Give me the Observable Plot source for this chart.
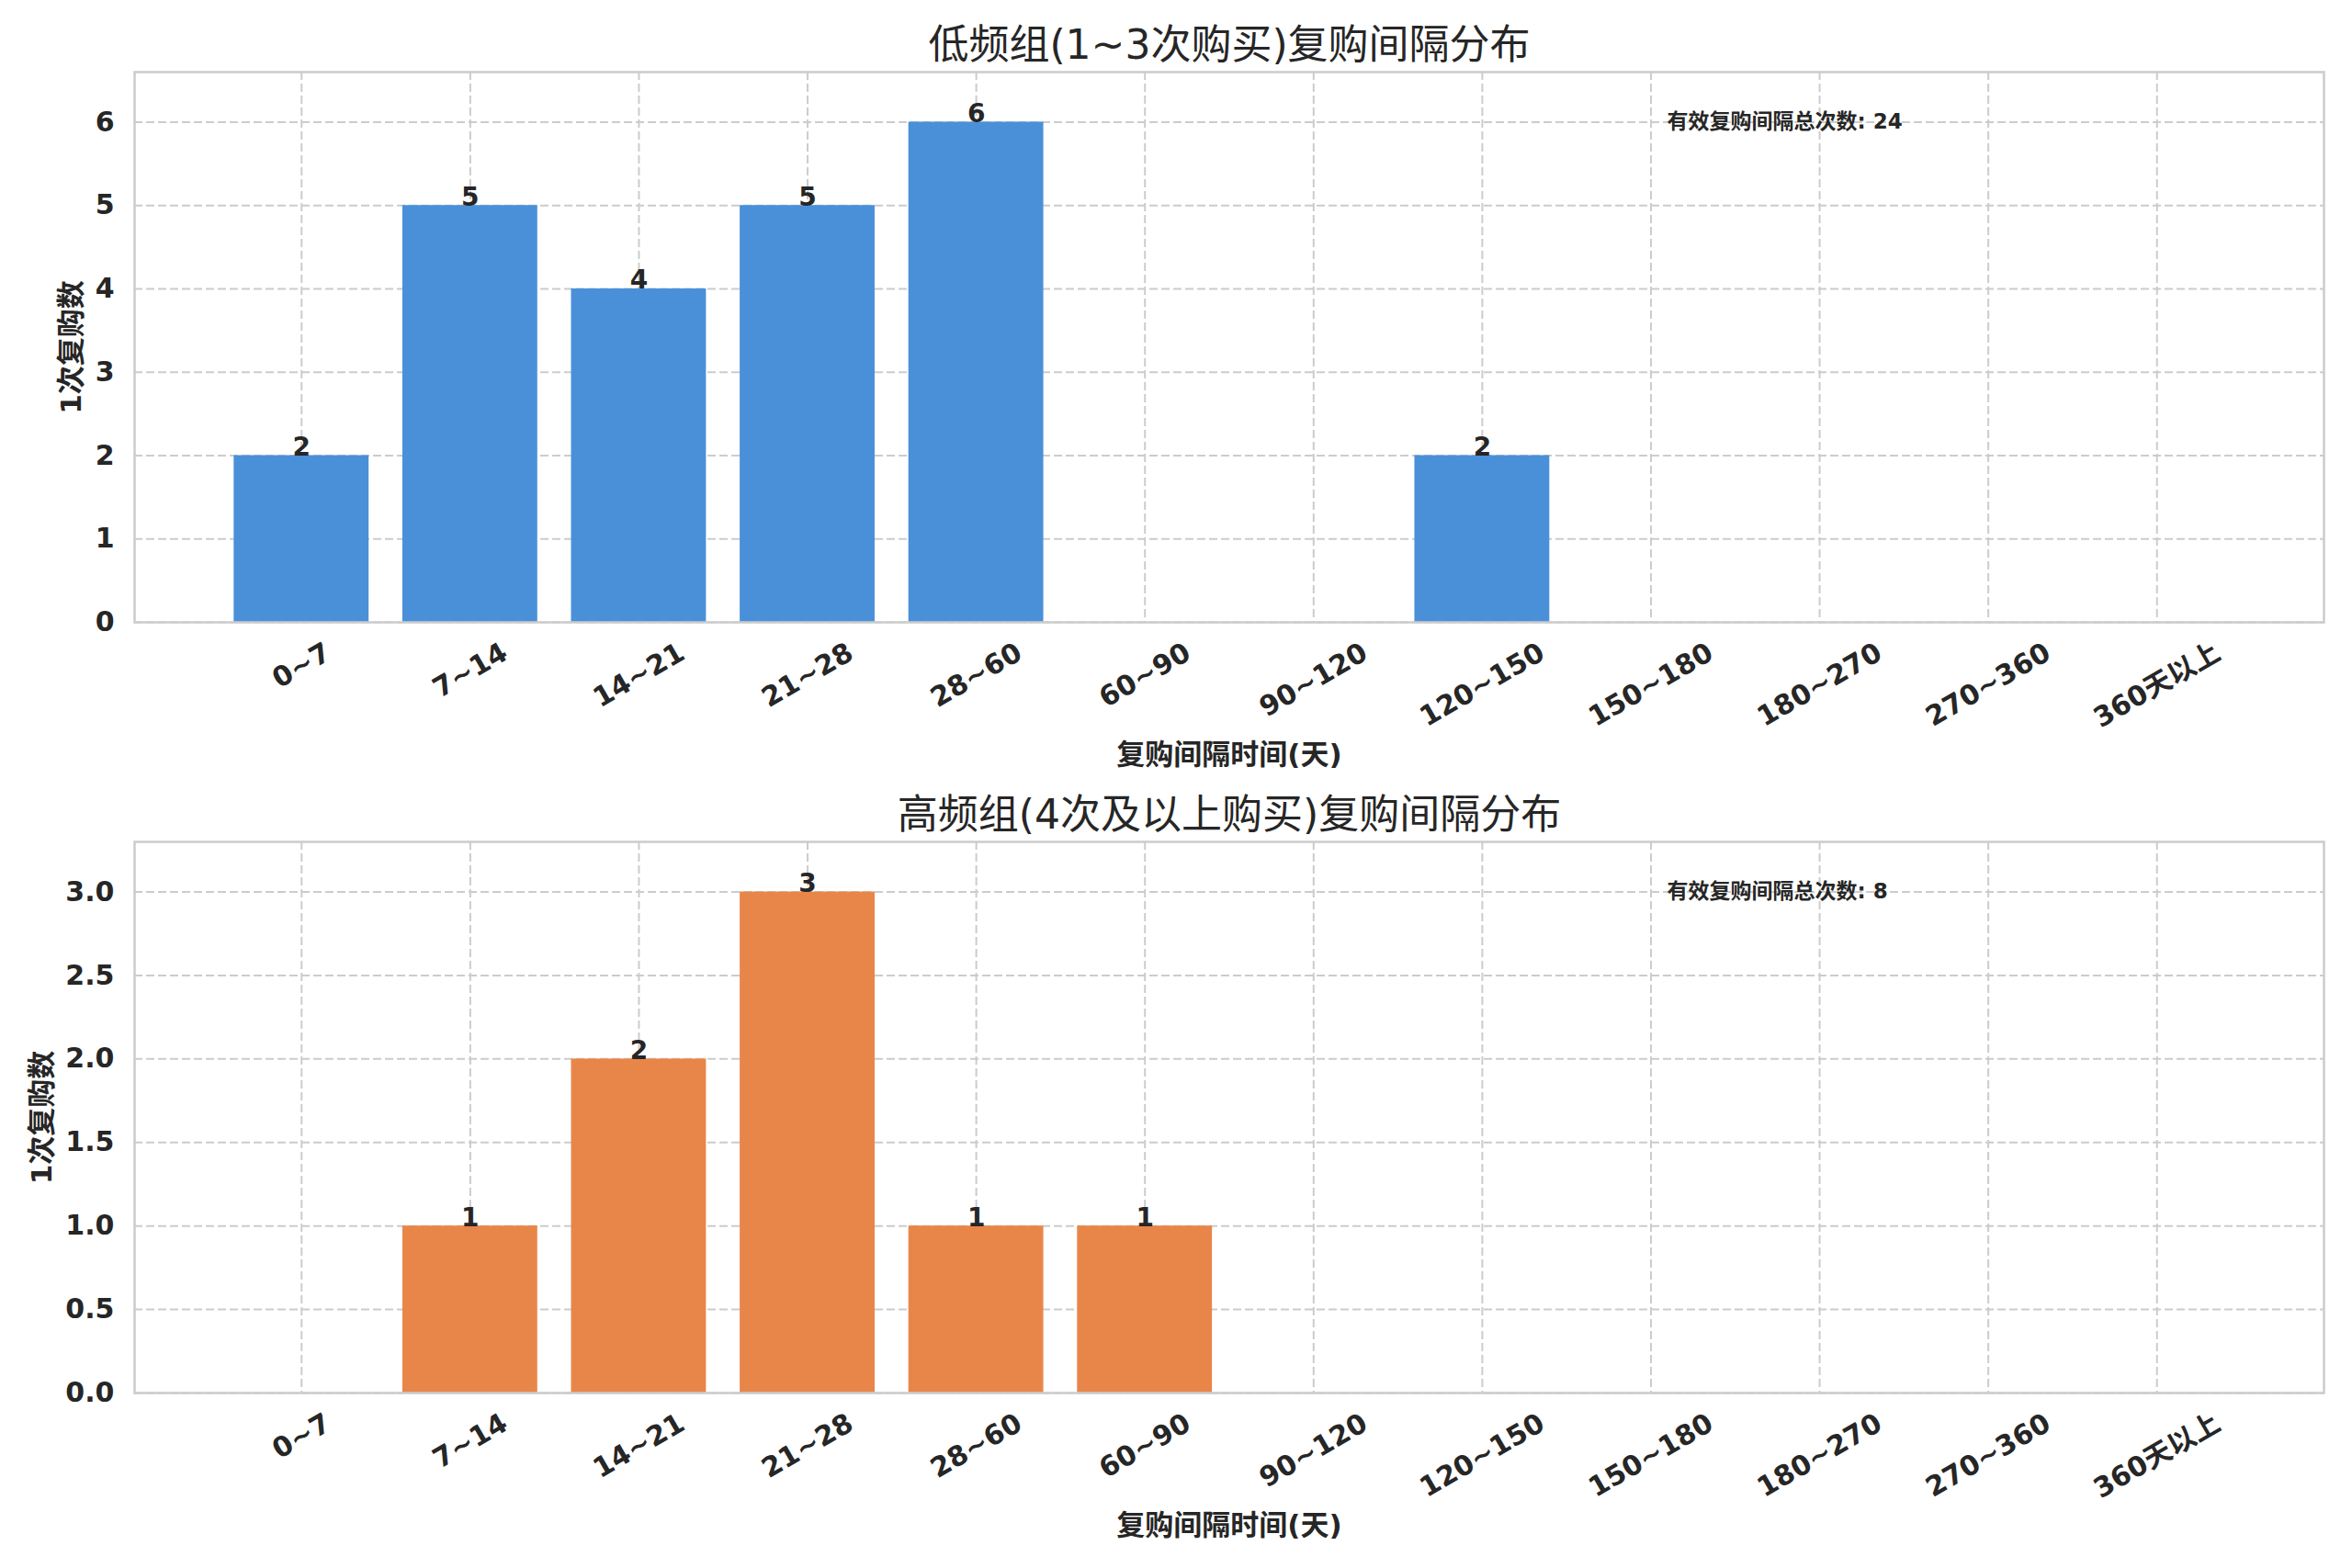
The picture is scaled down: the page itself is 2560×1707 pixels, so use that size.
<!DOCTYPE html>
<html>
<head>
<meta charset="utf-8">
<script src="https://cdn.jsdelivr.net/npm/d3@7"></script>
<script src="https://cdn.jsdelivr.net/npm/@observablehq/plot@0.6"></script>
<style>
  html, body { margin: 0; padding: 0; background: #ffffff; }
  #chart svg { display: block; }
</style>
</head>
<body>
<div id="chart"></div>
<script>
const categories = ["0~7","7~14","14~21","21~28","28~60","60~90","90~120","120~150","150~180","180~270","270~360","360天以上"];
const lowValues = [2,5,4,5,6,0,0,2,0,0,0,0];
const highValues = [0,1,2,3,1,1,0,0,0,0,0,0];
const lowTicks = [0,1,2,3,4,5,6];
const highTicks = [0,0.5,1.0,1.5,2.0,2.5,3.0];
const lowTitle = "低频组(1~3次购买)复购间隔分布";
const highTitle = "高频组(4次及以上购买)复购间隔分布";
const xLabel = "复购间隔时间(天)";
const yLabel = "1次复购数";
const totalLabel = "有效复购间隔总次数";

const FONT = '"DejaVu Sans","Noto Sans CJK SC",sans-serif';
const INK = "#262626";
const GRID = "#cccccc";

function estW(s) {
  let w = 0;
  for (const ch of s) {
    if (/[0-9]/.test(ch)) w += 0.696;
    else if (ch === "~") w += 0.838;
    else w += 1.0;
  }
  return w * 30;
}

function chart({values, color, ticks, fmt, title, height, mt, mb, ylabDx}) {
  const data = categories.map((c, i) => ({c, v: values[i]}));
  const vmax = d3.max(values);
  const total = d3.sum(values);
  const tickLabels = categories.map(c =>
    Plot.text([c], {
      x: () => c, frameAnchor: "bottom",
      dy: 21 + (estW(c) * 0.5 + 19) / 2,
      rotate: -30, textAnchor: "middle", lineAnchor: "middle",
      fontSize: 30, fontWeight: "bold", fill: INK
    })
  );
  return Plot.plot({
    width: 2560,
    height,
    marginTop: mt,
    marginBottom: mb,
    marginLeft: 146,
    marginRight: 31,
    style: {fontFamily: FONT, color: INK, background: "#ffffff", overflow: "visible"},
    x: {type: "band", domain: categories, paddingInner: 0.2, paddingOuter: 0.59, round: false, axis: null},
    y: {domain: [0, vmax * 1.1], axis: null},
    marks: [
      Plot.gridX({stroke: GRID, strokeOpacity: 1, strokeWidth: 2, strokeDasharray: "9,4"}),
      Plot.gridY(ticks, {stroke: GRID, strokeOpacity: 1, strokeWidth: 2, strokeDasharray: "9,4"}),
      Plot.barY(data, {x: "c", y: "v", fill: color}),
      Plot.text(data.filter(d => d.v > 0), {
        x: "c", y: "v", text: d => String(d.v), lineAnchor: "bottom",
        fontSize: 28, fontWeight: "bold", fill: INK
      }),
      Plot.text([total], {
        y: () => vmax, frameAnchor: "left", dx: 1668, textAnchor: "start", lineAnchor: "middle",
        text: d => `${totalLabel}: ${d}`, fontSize: 23, fontWeight: "bold", fill: INK
      }),
      Plot.frame({stroke: GRID, strokeWidth: 2.5}),
      Plot.axisY(ticks, {
        tickSize: 0, tickPadding: 22, tickFormat: fmt, fontSize: 30, fontWeight: "bold",
        label: null, fill: INK
      }),
      ...tickLabels,
      Plot.text([title], {
        frameAnchor: "top", dy: -29, lineAnchor: "middle", fontSize: 44, fill: INK
      }),
      Plot.text([xLabel], {
        frameAnchor: "bottom", dy: 145, lineAnchor: "middle", fontSize: 31, fontWeight: "bold", fill: INK
      }),
      Plot.text([yLabel], {
        frameAnchor: "left", dx: ylabDx, rotate: -90, textAnchor: "middle", lineAnchor: "middle",
        fontSize: 31, fontWeight: "bold", fill: INK
      })
    ]
  });
}

const root = document.getElementById("chart");
root.appendChild(chart({
  values: lowValues, color: "#4a90d9", ticks: lowTicks, fmt: d3.format("d"),
  title: lowTitle, height: 854, mt: 78, mb: 177, ylabDx: -68
}));
root.appendChild(chart({
  values: highValues, color: "#e8864a", ticks: highTicks, fmt: d3.format(".1f"),
  title: highTitle, height: 853, mt: 62, mb: 191, ylabDx: -100
}));
</script>
</body>
</html>
